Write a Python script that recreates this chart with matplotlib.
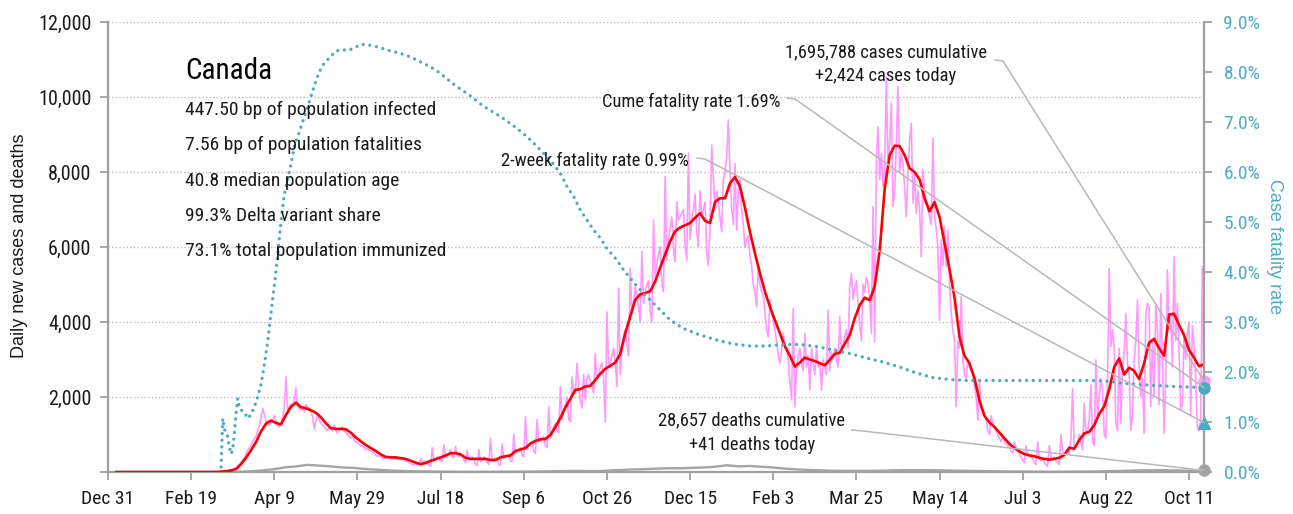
import matplotlib
matplotlib.use("Agg")
import matplotlib.pyplot as plt
import pandas as pd
import numpy as np
from matplotlib.lines import Line2D
from matplotlib import font_manager
from matplotlib.font_manager import FontProperties


def pick_font(names):
    for name in names:
        try:
            font_manager.findfont(FontProperties(family=name), fallback_to_default=False)
            return name
        except Exception:
            continue
    return "DejaVu Sans"


NARROW = pick_font(["Liberation Sans Narrow", "Roboto Condensed", "Liberation Sans"])
REGULAR = pick_font(["Liberation Sans", "Arial", "DejaVu Sans"])

# ---------------------------------------------------------------- data
country = "Canada"
stats_lines = [
    "447.50 bp of population infected",
    "7.56 bp of population fatalities",
    "40.8 median population age",
    "99.3% Delta variant share",
    "73.1% total population immunized",
]
last_date = "2021-10-20"
cases_cumulative = 1695788
cases_today = 2424
deaths_cumulative = 28657
deaths_today = 41
cfr_cumulative = 1.69
cfr_two_week = 0.99

x_tick_dates = ["2019-12-31", "2020-02-19", "2020-04-09", "2020-05-29", "2020-07-18",
                "2020-09-06", "2020-10-26", "2020-12-15", "2021-02-03", "2021-03-25",
                "2021-05-14", "2021-07-03", "2021-08-22", "2021-10-11"]
x_tick_labels = ["Dec 31", "Feb 19", "Apr 9", "May 29", "Jul 18", "Sep 6", "Oct 26",
                 "Dec 15", "Feb 3", "Mar 25", "May 14", "Jul 3", "Aug 22", "Oct 11"]
y_tick_values = [0, 2000, 4000, 6000, 8000, 10000, 12000]
y_tick_labels = ["", "2,000", "4,000", "6,000", "8,000", "10,000", "12,000"]
cfr_tick_values = [0, 1, 2, 3, 4, 5, 6, 7, 8, 9]
cfr_tick_labels = ["0.0%", "1.0%", "2.0%", "3.0%", "4.0%", "5.0%", "6.0%", "7.0%", "8.0%", "9.0%"]

# daily new cases, one row per week, Mon 2020-03-02 onwards (ends on last_date)
daily_cases = [
    3, 5, 4, 8, 6, 9, 12,
    16, 15, 26, 24, 55, 58, 52,
    90, 120, 150, 200, 250, 320, 380,
    480, 580, 640, 720, 820, 900, 950,
    1100, 1250, 1450, 1700, 1550, 1350, 1300,
    1250, 1300, 1400, 1500, 1350, 1250, 1200,
    1300, 1450, 1700, 2540, 1650, 1750, 1800,
    1800, 1900, 2240, 1750, 1700, 1650, 1700,
    1600, 1800, 1750, 1650, 1600, 1500, 1150,
    1350, 1500, 1400, 1300, 1250, 1200, 1150,
    1100, 1200, 1150, 1100, 1250, 1100, 1050,
    1100, 1150, 1200, 1100, 1050, 1000, 950,
    900, 950, 850, 800, 780, 750, 700,
    700, 650, 600, 620, 580, 560, 550,
    500, 450, 420, 430, 400, 380, 350,
    400, 420, 380, 350, 380, 360, 350,
    360, 340, 330, 350, 320, 300, 280,
    250, 220, 200, 180, 220, 200, 210,
    350, 200, 300, 280, 240, 180, 150,
    650, 300, 350, 400, 380, 300, 280,
    720, 400, 450, 500, 600, 420, 380,
    680, 450, 400, 500, 450, 300, 250,
    580, 300, 350, 400, 350, 200, 180,
    600, 280, 300, 400, 380, 250, 200,
    900, 300, 350, 380, 320, 200, 180,
    750, 350, 400, 450, 420, 300, 280,
    1010, 500, 550, 600, 650, 450, 400,
    1480, 600, 700, 750, 800, 550, 500,
    1400, 800, 850, 900, 950, 700, 650,
    1740, 900, 1000, 1200, 1300, 1100, 1050,
    2280, 1400, 1600, 1800, 2000, 1400, 1340,
    2540, 2200, 2100, 2900, 2300, 1900, 1700,
    2600, 1920, 2500, 2600, 2400, 2300, 2100,
    3170, 2500, 2600, 2800, 2900, 2500, 1340,
    4270, 2800, 2900, 3100, 3300, 2900, 2280,
    4900, 2600, 3300, 3600, 3800, 3400, 3100,
    5430, 4200, 4500, 4940, 4700, 4400, 4000,
    5880, 4500, 4800, 5000, 5100, 4300, 4000,
    6720, 5200, 5500, 5800, 6000, 5000, 4800,
    7880, 5650, 6200, 6500, 6800, 6000, 5600,
    7200, 6720, 6800, 6900, 7000, 6000, 5650,
    8500, 6200, 6700, 7000, 7400, 6400, 6000,
    7500, 6800, 7000, 7200, 5830, 5500, 6500,
    8720, 7800, 7000, 7500, 7200, 6800, 6400,
    7800, 8000, 8400, 9390, 8000, 7000, 6600,
    8230, 6450, 7500, 7800, 7000, 6600, 6000,
    6190, 6300, 5800, 5500, 5000, 4800, 4410,
    5500, 5000, 4800, 4700, 4300, 3800, 3600,
    4590, 4230, 4000, 3800, 3500, 3100, 2900,
    3250, 3700, 3400, 3300, 3000, 2400, 1920,
    4360, 1740, 2800, 3100, 3300, 2900, 2700,
    3700, 2800, 3100, 2190, 3300, 2900, 2600,
    3300, 2800, 2900, 2190, 3000, 2800, 2600,
    4320, 2700, 3200, 3000, 3300, 3000, 2800,
    4140, 3200, 3400, 3600, 3800, 3300, 4940,
    5300, 4600, 4900, 5100, 4500, 3900, 3500,
    5000, 4800, 5200, 5000, 4600, 3700, 7080,
    3480, 8320, 9210, 7790, 8500, 7600, 8000,
    10540, 8200, 8800, 9830, 7080, 7500, 8800,
    10280, 8000, 8500, 8200, 7600, 6810, 8000,
    8850, 9300, 7170, 8000, 6900, 7500, 7000,
    5740, 8050, 7500, 7200, 7000, 6800, 6600,
    8900, 6800, 6500, 6000, 4050, 6200, 5500,
    6540, 5470, 6450, 5000, 4270, 3800, 3500,
    1740, 3500, 3300, 4680, 3000, 2600, 2500,
    3000, 2800, 2700, 2600, 2300, 2000, 1390,
    2400, 1700, 1600, 1500, 1400, 1100, 1000,
    1500, 1300, 1200, 1100, 1000, 900, 800,
    1000, 800, 750, 700, 650, 550, 500,
    800, 600, 550, 500, 400, 300, 250,
    700, 500, 450, 400, 350, 250, 200,
    800, 350, 300, 350, 250, 200, 150,
    700, 400, 350, 400, 300, 250, 200,
    1000, 550, 500, 550, 600, 500, 900,
    2230, 600, 700, 800, 1000, 800, 600,
    1830, 1000, 1100, 1400, 2320, 800, 700,
    2990, 1480, 2000, 2500, 2200, 1000, 900,
    2500, 5430, 3340, 3790, 3300, 1300, 1100,
    3300, 1300, 2800, 3200, 4230, 2900, 2600,
    1120, 1500, 3000, 3500, 4590, 2800, 2000,
    2500, 1030, 4200, 4500, 4400, 1740, 3500,
    2000, 4500, 3800, 1800, 4760, 3000, 1030,
    2500, 5390, 3800, 4200, 2800, 5740, 3500,
    4500, 3200, 1650, 1800, 3700, 3000, 3700,
    4000, 1500, 3900, 3430, 2500, 1210, 1100,
    1400, 5470, 2424,
]

# 7-day average of new cases, every third day (ends on last_date)
avg_cases = [0] * 20 + [
    0, 10, 20, 40, 80, 210, 380, 580, 800, 1080,
    1290, 1370, 1310, 1270, 1520, 1740, 1850, 1730, 1700, 1650,
    1580, 1460, 1300, 1170, 1150, 1150, 1140, 1050, 920, 820,
    720, 640, 560, 470, 400, 390, 390, 370, 350, 300,
    250, 210, 240, 300, 340, 390, 440, 500, 500, 470,
    380, 350, 350, 350, 350, 320, 320, 390, 420, 440,
    560, 600, 640, 760, 830, 870, 880, 990, 1200, 1440,
    1720, 1950, 2190, 2210, 2280, 2300, 2450, 2620, 2750, 2830,
    2920, 3150, 3700, 4140, 4590, 4740, 4770, 4820, 5080, 5450,
    5800, 6150, 6420, 6520, 6580, 6640, 6780, 6900, 6700, 6640,
    7200, 7300, 7300, 7700, 7870, 7610, 7050, 6400, 5830, 5300,
    4810, 4410, 4050, 3700, 3350, 3100, 2810, 2920, 3050, 3000,
    2960, 2900, 2850, 2990, 3150, 3180, 3420, 3650, 4100, 4450,
    4650, 4580, 4950, 5900, 7550, 8450, 8700, 8690, 8450, 8100,
    8000, 7800, 7300, 6950, 7200, 6800, 6100, 5400, 4650, 3600,
    3100, 2900, 2500, 1900, 1500, 1320, 1200, 1050, 900, 750,
    640, 550, 480, 440, 420, 380, 350, 330, 350, 380,
    450, 650, 620, 850, 1030, 1070, 1250, 1550, 1750, 2200,
    2800, 3030, 2600, 2780, 2700, 2480, 2900, 3450, 3550, 3300,
    3100, 4200, 4220, 3920, 3650, 3250, 3050, 2820, 2870,
]

# daily deaths, one value per week (ends on last_date)
weekly_deaths = [
    0, 1, 3, 15, 40, 70, 120, 150, 190, 170,
    150, 120, 110, 80, 60, 40, 30, 20, 15, 10,
    8, 6, 5, 6, 5, 8, 8, 10, 15, 20,
    25, 30, 25, 25, 40, 55, 70, 75, 90, 100,
    100, 110, 120, 140, 180, 150, 160, 140, 120, 90,
    70, 55, 45, 35, 30, 30, 30, 35, 40, 50,
    50, 50, 45, 40, 35, 30, 25, 20, 15, 12,
    10, 8, 6, 8, 10, 12, 15, 25, 30, 40,
    45, 50, 45, 40, 35, 41,
]

# case fatality rate (%), by day counted from 2019-12-31
cfr_day = [0, 4, 5,
           68, 69, 70, 71, 72, 73, 74, 75, 76, 77, 78, 79, 80, 82, 84, 86, 88, 90,
           92, 94, 96, 98, 100, 102, 104, 106, 108, 110, 112, 115, 118, 121, 124,
           127, 130, 133, 137, 140, 145, 148, 152, 155, 160, 165, 170, 176, 182, 188,
           194, 200, 205, 210, 216, 221, 226, 231, 236, 241, 246, 250, 254, 260, 266,
           272, 276, 280, 284, 288, 292, 296, 300, 306, 310, 315, 320, 326, 332, 338,
           346, 356, 366, 376, 386, 396, 406, 416, 426, 436, 446, 456, 466, 476, 486,
           496, 506, 516, 530, 560, 590, 600, 611, 625, 641, 659]
cfr_values = [0.0, 0.0, np.nan,
              0.10, 1.07, 0.85, 0.80, 0.70, 0.50, 0.36, 0.45, 0.77, 1.17, 1.47, 1.30,
              1.24, 1.20, 1.07, 1.15, 1.30, 1.50,
              1.75, 2.15, 2.60, 3.18, 3.72, 4.33, 5.00, 5.55, 5.85, 6.15, 6.50, 6.80,
              7.10, 7.40, 7.72,
              8.00, 8.18, 8.28, 8.42, 8.44, 8.44, 8.48, 8.55, 8.55, 8.52, 8.47, 8.42,
              8.37, 8.30, 8.20,
              8.10, 7.97, 7.83, 7.70, 7.57, 7.44, 7.31, 7.21, 7.11, 6.99, 6.87, 6.76,
              6.64, 6.44, 6.24,
              5.97, 5.71, 5.51, 5.24, 5.04, 4.84, 4.68, 4.47, 4.24, 4.04, 3.84, 3.64,
              3.44, 3.24, 3.04,
              2.87, 2.74, 2.64, 2.56, 2.52, 2.52, 2.55, 2.55, 2.51, 2.44, 2.37, 2.28,
              2.20, 2.10, 1.98,
              1.89, 1.85, 1.83, 1.83, 1.83, 1.83, 1.82, 1.77, 1.74, 1.71, 1.69]

# ---------------------------------------------------------------- styling
PINK = "#ff99ff"
RED = "#ff0000"
GRAY = "#a6a6a6"
TEAL = "#4bacc6"
SPINE = "#a0a0a0"
GRID = "#bcbcbc"
LEADER = "#b8b8b8"
INK = "#1a1a1a"

W, H = 1293, 514
fig = plt.figure(figsize=(W / 100, H / 100), dpi=100)
ax = fig.add_axes([108 / W, 42 / H, (1204 - 108) / W, (472 - 22) / H])


def fpx(x, y):
    """Figure fraction from pixel coordinates measured from the top-left."""
    return x / W, 1 - y / H


end = pd.Timestamp(last_date)
start = pd.Timestamp(x_tick_dates[0])
case_dates = pd.date_range(end=end, periods=len(daily_cases), freq="D")
avg_dates = pd.date_range(end=end, periods=len(avg_cases), freq="3D")
death_dates = pd.date_range(end=end, periods=len(weekly_deaths), freq="7D")
cfr_dates = [start + pd.Timedelta(days=d) for d in cfr_day]

ax.plot(case_dates, daily_cases, color=PINK, lw=1.2, zorder=2)
ax.plot(death_dates, weekly_deaths, color=GRAY, lw=1.7, zorder=2.5)
ax.plot(avg_dates, avg_cases, color=RED, lw=1.9, zorder=3)

ax.set_xlim(start, end)
ax.set_ylim(0, 12000)
ax.set_xticks(pd.to_datetime(x_tick_dates))
ax.set_xticklabels(x_tick_labels, fontfamily=NARROW, fontsize=14, color=INK)
ax.set_yticks(y_tick_values)
ax.set_yticklabels(y_tick_labels, fontfamily=NARROW, fontsize=14.5, color=INK)
ax.tick_params(axis="x", length=6, width=1.3, color=SPINE, pad=7)
ax.tick_params(axis="y", length=6, width=1.3, color=SPINE, pad=6)
ax.grid(axis="y", color=GRID, linestyle=(0, (1, 1.6)), lw=1.0)
ax.set_axisbelow(True)
for side in ("top", "right"):
    ax.spines[side].set_visible(False)
for side in ("left", "bottom"):
    ax.spines[side].set_color(SPINE)
    ax.spines[side].set_linewidth(1.6)

ax2 = ax.twinx()
ax2.plot(cfr_dates, cfr_values, color=TEAL, lw=2.4, linestyle=(0, (0.01, 2.0)),
         dash_capstyle="round", zorder=4)
ax2.set_ylim(0, 9)
ax2.set_yticks(cfr_tick_values)
ax2.set_yticklabels(cfr_tick_labels, fontfamily=NARROW, fontsize=14, color=TEAL)
ax2.tick_params(axis="y", length=6, width=1.3, color=SPINE, pad=8)
for side in ("top", "left", "bottom"):
    ax2.spines[side].set_visible(False)
ax2.spines["right"].set_color(SPINE)
ax2.spines["right"].set_linewidth(1.6)

# end-of-series markers
ax.plot([end], [deaths_today], "o", color=GRAY, ms=8, clip_on=False, zorder=6)
ax2.plot([end], [cfr_two_week], "^", color=TEAL, ms=9, clip_on=False, zorder=6)
ax.plot([end], [cases_today], "o", color=PINK, ms=8, clip_on=False, zorder=6)
ax2.plot([end], [cfr_cumulative], "o", color=TEAL, ms=8, clip_on=False, zorder=7)

# axis titles
fig.text(*fpx(20, 246), "Daily new cases and deaths", rotation=90, ha="center",
         va="center", fontfamily=REGULAR, fontsize=13, color=INK)
fig.text(*fpx(1275, 247), "Case fatality rate", rotation=270, ha="center",
         va="center", fontfamily=REGULAR, fontsize=13, color=TEAL)

# country block
fig.text(*fpx(185, 79), country, fontfamily=NARROW, fontsize=21, color="#000000",
         va="baseline")
for i, line in enumerate(stats_lines):
    fig.text(*fpx(185, 115 + 35.3 * i), line, fontfamily=NARROW, fontsize=14,
             color=INK, va="baseline")

# labels with leader lines
ANN = 13.3
fig.text(*fpx(886, 57), f"{cases_cumulative:,} cases cumulative", ha="center",
         va="baseline", fontfamily=NARROW, fontsize=ANN, color=INK)
fig.text(*fpx(886, 81), f"+{cases_today:,} cases today", ha="center",
         va="baseline", fontfamily=NARROW, fontsize=ANN, color=INK)
fig.text(*fpx(780, 107), f"Cume fatality rate {cfr_cumulative:.2f}%", ha="right",
         va="baseline", fontfamily=NARROW, fontsize=ANN, color=INK)
fig.text(*fpx(689, 166), f"2-week fatality rate {cfr_two_week:.2f}%", ha="right",
         va="baseline", fontfamily=NARROW, fontsize=ANN, color=INK)
fig.text(*fpx(752, 425), f"{deaths_cumulative:,} deaths cumulative", ha="center",
         va="baseline", fontfamily=NARROW, fontsize=ANN, color=INK)
fig.text(*fpx(752, 450), f"+{deaths_today} deaths today", ha="center",
         va="baseline", fontfamily=NARROW, fontsize=ANN, color=INK)

to_fig = fig.transFigure.inverted()


def leader(p0, p1, axis, value):
    tgt = to_fig.transform(axis.transData.transform((matplotlib.dates.date2num(end), value)))
    a, b = fpx(*p0), fpx(*p1)
    fig.add_artist(Line2D([a[0], b[0], tgt[0]], [a[1], b[1], tgt[1]],
                          transform=fig.transFigure, color=LEADER, lw=1.1, zorder=10))


leader((995, 60), (1003, 61), ax, cases_today)
leader((787, 98), (795, 99), ax2, cfr_cumulative)
leader((697, 158), (705, 159), ax2, cfr_two_week)
leader((852, 430), (863, 431), ax, deaths_today)

fig.savefig("out.png", dpi=100)
